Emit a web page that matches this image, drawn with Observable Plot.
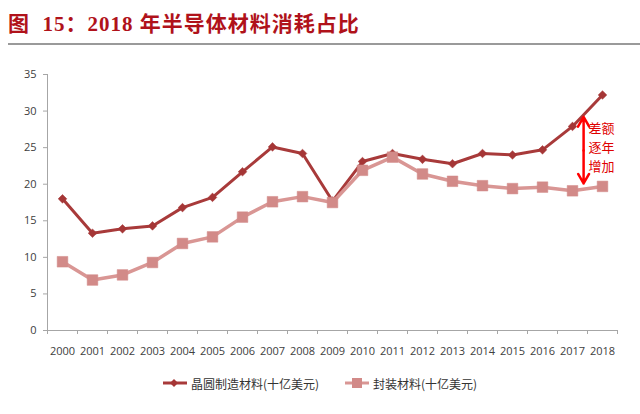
<!DOCTYPE html>
<html>
<head>
<meta charset="utf-8">
<script src="https://cdn.jsdelivr.net/npm/d3@7"></script>
<script src="https://cdn.jsdelivr.net/npm/@observablehq/plot@0.6"></script>
<style>
  body { margin: 0; background: #fff; }
  #wrap { position: relative; width: 640px; height: 414px; overflow: hidden; font-family: "Noto Sans CJK SC", sans-serif; }
  #title { position: absolute; left: 8px; top: 7px; font-family: "Liberation Serif", "Noto Sans CJK SC", serif; font-weight: bold; font-size: 21px; letter-spacing: 1px; color: #b0121a; white-space: pre; }
  #rule { position: absolute; left: 8px; right: 0; top: 43px; height: 2px; background: #9a9a9a; }
  #chart { position: absolute; left: 0; top: 48px; }
  #chart g[aria-label^="x-axis"] text, #chart g[aria-label^="y-axis"] text { fill: #404040; }
  #legend { position: absolute; top: 374px; left: 0; width: 640px; height: 18px; font-size: 12px; color: #333; }
  .item { position: absolute; top: 0; display: flex; align-items: center; height: 18px; }
  .item svg { margin-right: 4px; }
</style>
</head>
<body>
<div id="wrap">
  <div id="title">图  15：2018 年半导体材料消耗占比</div>
  <div id="rule"></div>
  <div id="chart"></div>
  <div id="legend"></div>
</div>
<script>
const years = [2000,2001,2002,2003,2004,2005,2006,2007,2008,2009,2010,2011,2012,2013,2014,2015,2016,2017,2018];
const waferValues = [18.0,13.3,13.9,14.3,16.8,18.2,21.7,25.1,24.2,17.7,23.1,24.2,23.4,22.8,24.2,24.0,24.7,27.9,32.2];
const packagingValues = [9.4,6.9,7.6,9.3,11.9,12.8,15.5,17.6,18.3,17.5,21.9,23.7,21.4,20.4,19.8,19.4,19.6,19.1,19.7];
const yTicks = [0,5,10,15,20,25,30,35];
const seriesNames = ["晶圆制造材料(十亿美元)", "封装材料(十亿美元)"];
const seriesColors = ["#a83a3a", "#d99694"];
const markerColors = ["#a53636", "#d28a88"];
const annotationText = "差额\n逐年\n增加";
const annotationArrow = {x: 2017.37, top: 29.2, mid: 24.6, bottom: 20.1};
const annotationLabel = {x: 2017.5, y: 25.2};

const wafer = years.map((y, i) => ({year: y, value: waferValues[i]}));
const packaging = years.map((y, i) => ({year: y, value: packagingValues[i]}));
const boundaries = years.map(y => y - 0.5).concat([years[years.length - 1] + 0.5]);

const chart = Plot.plot({
  width: 640,
  height: 314,
  marginLeft: 47,
  marginRight: 23,
  marginTop: 26,
  marginBottom: 32,
  style: {fontFamily: "'Open Sans', sans-serif", fontSize: "11px", color: "#a6a6a6", background: "transparent"},
  x: {type: "linear", domain: [years[0] - 0.5, years[years.length - 1] + 0.5], ticks: boundaries, tickFormat: () => "", tickSize: 4, label: null},
  y: {domain: [0, 35], ticks: yTicks, tickSize: 4, tickPadding: 7, label: null},
  marks: [
    Plot.ruleY([0], {stroke: "#a6a6a6"}),
    Plot.ruleX([years[0] - 0.5], {stroke: "#a6a6a6"}),
    Plot.text(years, {x: d => d, y: 0, dy: 21, text: d => String(d), fill: "#404040", fontSize: 11}),
    Plot.line(wafer, {x: "year", y: "value", stroke: seriesColors[0], strokeWidth: 3}),
    Plot.dot(wafer, {x: "year", y: "value", symbol: "diamond2", r: 3.9, fill: markerColors[0], stroke: markerColors[0], strokeWidth: 0.5}),
    Plot.line(packaging, {x: "year", y: "value", stroke: seriesColors[1], strokeWidth: 3.5}),
    Plot.dot(packaging, {x: "year", y: "value", symbol: "square", r: 6, fill: markerColors[1], stroke: markerColors[1], strokeWidth: 0.5}),
    Plot.arrow([annotationArrow], {x1: "x", x2: "x", y1: "mid", y2: "top", bend: 0, stroke: "#ff0000", strokeWidth: 2.5, headLength: 9}),
    Plot.arrow([annotationArrow], {x1: "x", x2: "x", y1: "mid", y2: "bottom", bend: 0, stroke: "#ff0000", strokeWidth: 2.5, headLength: 9}),
    Plot.text([annotationLabel], {x: "x", y: "y", text: () => annotationText, textAnchor: "start", lineAnchor: "middle", lineHeight: 1.45, fill: "#e00000", fontSize: 13, fontFamily: "'Noto Sans CJK SC', sans-serif", dx: 1, style: "letter-spacing:2px"})
  ]
});
document.getElementById("chart").appendChild(chart);

// legend
const legend = document.getElementById("legend");
const legendPos = [163, 345];
seriesNames.forEach((name, i) => {
  const item = document.createElement("div");
  item.className = "item";
  item.style.left = legendPos[i] + "px";
  const marker = i === 0
    ? `<polygon points="11,5 15,9 11,13 7,9" fill="${markerColors[0]}"/>`
    : `<rect x="7" y="4" width="10" height="10" fill="${markerColors[1]}"/>`;
  item.innerHTML = `<svg width="24" height="18"><line x1="0" x2="24" y1="9" y2="9" stroke="${seriesColors[i]}" stroke-width="3"/>${marker}</svg><span>${name}</span>`;
  legend.appendChild(item);
});
</script>
</body>
</html>
